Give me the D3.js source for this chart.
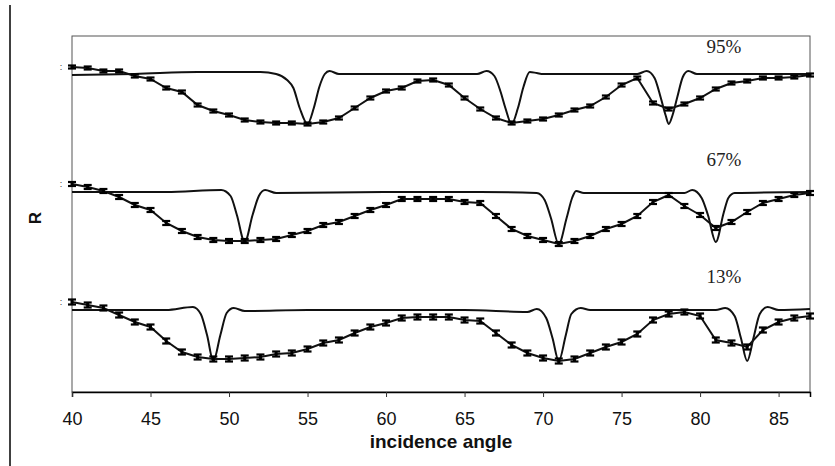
<!DOCTYPE html>
<html>
<head>
<meta charset="utf-8">
<script src="https://cdn.jsdelivr.net/npm/d3@7"></script>
<style>
    body { margin: 0; background: #fff; }
    #chart { width: 835px; height: 466px; }
</style>
</head>
<body>
<div id="chart"></div>
<script>
// Incidence angles (x categories)
const angles = [40, 41, 42, 43, 44, 45, 46, 47, 48, 49, 50, 51, 52, 53, 54, 55,
    56, 57, 58, 59, 60, 61, 62, 63, 64, 65, 66, 67, 68, 69, 70, 71,
    72, 73, 74, 75, 76, 77, 78, 79, 80, 81, 82, 83, 84, 85, 86, 87];

const xTicks = [40, 45, 50, 55, 60, 65, 70, 75, 80, 85];

// Measured R (offset per panel), one value per angle
const measured95 = [3.25, 3.24, 3.21, 3.21, 3.16, 3.13, 3.04, 3.00, 2.87, 2.81, 2.77, 2.72,
    2.70, 2.69, 2.69, 2.68, 2.70, 2.74, 2.84, 2.94, 3.01, 3.04, 3.11, 3.12,
    3.07, 2.94, 2.83, 2.74, 2.69, 2.71, 2.73, 2.77, 2.82, 2.86, 2.95, 3.07,
    3.14, 2.89, 2.83, 2.88, 2.94, 3.03, 3.09, 3.11, 3.14, 3.14, 3.15, 3.17];

const measured67 = [2.08, 2.05, 2.01, 1.95, 1.87, 1.82, 1.69, 1.61, 1.55, 1.52, 1.51, 1.51,
    1.52, 1.53, 1.57, 1.61, 1.67, 1.70, 1.76, 1.82, 1.87, 1.93, 1.93, 1.93,
    1.93, 1.90, 1.89, 1.76, 1.63, 1.56, 1.52, 1.48, 1.51, 1.56, 1.63, 1.68,
    1.76, 1.90, 1.97, 1.86, 1.77, 1.64, 1.70, 1.80, 1.89, 1.93, 1.97, 1.99];

const measured13 = [0.90, 0.87, 0.84, 0.77, 0.70, 0.65, 0.51, 0.40, 0.35, 0.33, 0.33, 0.34,
    0.35, 0.38, 0.39, 0.43, 0.49, 0.52, 0.59, 0.65, 0.69, 0.74, 0.75, 0.75,
    0.75, 0.72, 0.71, 0.59, 0.47, 0.39, 0.34, 0.31, 0.33, 0.39, 0.45, 0.50,
    0.58, 0.72, 0.78, 0.80, 0.76, 0.52, 0.49, 0.45, 0.62, 0.70, 0.74, 0.76];

// Error bar half-widths per panel
const err95 = 0.015;
const err67 = 0.02;
const err13 = 0.025;

// Calculated curves: [angle, R]
const theory95 = [[40, 3.17], [44, 3.18], [48, 3.20], [50, 3.20], [52, 3.20], [53, 3.18],
    [53.7, 3.12], [54.1, 3.04], [54.5, 2.84], [55, 2.68], [55.4, 2.84], [55.75, 3.05],
    [56.1, 3.18], [56.4, 3.21], [57, 3.18], [60, 3.18], [65.8, 3.18], [66.4, 3.21],
    [66.9, 3.16], [67.3, 3.00], [67.6, 2.84], [68, 2.68], [68.4, 2.84], [68.75, 3.05],
    [69.15, 3.20], [69.6, 3.19], [70, 3.18], [76, 3.18], [76.6, 3.21], [77.1, 3.14],
    [77.5, 2.94], [77.8, 2.77], [78, 2.68], [78.25, 2.77], [78.55, 2.95], [78.9, 3.15],
    [79.25, 3.21], [79.8, 3.18], [82, 3.18], [87, 3.18]];

const theory67 = [[40, 2.00], [46, 2.00], [49.5, 2.02], [50.1, 1.96], [50.5, 1.77], [51, 1.50],
    [51.5, 1.77], [51.9, 1.96], [52.3, 2.02], [53, 1.99], [60, 2.00], [66, 2.00],
    [69.6, 1.99], [70.1, 1.92], [70.5, 1.74], [71, 1.48], [71.5, 1.74], [71.85, 1.94],
    [72.1, 2.01], [72.6, 1.99], [79, 1.99], [79.5, 2.02], [80.1, 1.94], [80.5, 1.77],
    [81, 1.50], [81.5, 1.79], [81.8, 1.94], [82.2, 1.99], [87, 2.00]];

const theory13 = [[40, 0.82], [46, 0.82], [47.7, 0.85], [48.2, 0.78], [48.6, 0.57], [49, 0.31],
    [49.45, 0.57], [49.85, 0.79], [50.3, 0.84], [51, 0.81], [55, 0.82], [60, 0.82],
    [65, 0.82], [69, 0.80], [69.6, 0.83], [70.2, 0.74], [70.6, 0.54], [71, 0.31],
    [71.45, 0.57], [71.8, 0.78], [72.4, 0.84], [73, 0.82], [81, 0.82], [81.6, 0.84],
    [82.2, 0.76], [82.6, 0.54], [83, 0.31], [83.4, 0.54], [83.8, 0.78], [84.3, 0.85],
    [85, 0.82], [87, 0.83]];

const panelLabels = ['95%', '67%', '13%'];
const labelValues = [3.39, 2.26, 1.09];
const yMarks = [3.255, 2.085, 0.905];

const width = 835;
const height = 466;
const margin = { top: 36, right: 25, bottom: 74, left: 72 };

const svg = d3.select('#chart')
    .append('svg')
    .attr('width', width)
    .attr('height', height)
    .style('font-family', '"Liberation Sans", Arial, sans-serif');

svg.append('rect')
    .attr('width', width)
    .attr('height', height)
    .attr('fill', '#fff');

// outer left border of the figure
svg.append('line')
    .attr('x1', 10).attr('x2', 10)
    .attr('y1', 5).attr('y2', height)
    .attr('stroke', '#000')
    .attr('stroke-width', 1.5);

const x = d3.scaleLinear()
    .domain([40, 87])
    .range([margin.left, width - margin.right]);

const y = d3.scaleLinear()
    .domain([0, 3.56])
    .range([height - margin.bottom, margin.top]);

// plot frame
svg.append('rect')
    .attr('x', margin.left)
    .attr('y', margin.top)
    .attr('width', width - margin.right - margin.left)
    .attr('height', height - margin.bottom - margin.top)
    .attr('fill', 'none')
    .attr('stroke', '#555')
    .attr('stroke-width', 1);

// x axis
const xAxis = svg.append('g')
    .attr('transform', `translate(0,${height - margin.bottom})`)
    .call(d3.axisBottom(x).tickValues(xTicks).tickSize(5).tickPadding(15));

xAxis.select('.domain').attr('stroke', '#000').attr('stroke-width', 1.5);
xAxis.selectAll('.tick line').attr('stroke', '#333');
xAxis.selectAll('.tick text')
    .attr('font-family', '"Liberation Sans", Arial, sans-serif')
    .attr('font-size', 18)
    .attr('fill', '#111');

svg.append('text')
    .attr('x', 441)
    .attr('y', 448)
    .attr('text-anchor', 'middle')
    .attr('font-size', 19)
    .attr('font-weight', 'bold')
    .attr('fill', '#111')
    .text('incidence angle');

svg.append('text')
    .attr('transform', 'translate(41,218) rotate(-90)')
    .attr('text-anchor', 'middle')
    .attr('font-size', 17)
    .attr('font-weight', 'bold')
    .attr('fill', '#111')
    .text('R');

// leftover tick marks on the y axis
svg.selectAll('.ymark')
    .data(yMarks)
    .enter()
    .append('text')
    .attr('class', 'ymark')
    .attr('x', 61)
    .attr('y', d => y(d) + 3)
    .attr('text-anchor', 'middle')
    .attr('font-size', 9)
    .attr('fill', '#333')
    .text(':');

const theoryLine = d3.line()
    .x(d => x(d[0]))
    .y(d => y(d[1]))
    .curve(d3.curveMonotoneX);

const dataLine = d3.line()
    .x((d, i) => x(angles[i]))
    .y(d => y(d))
    .curve(d3.curveLinear);

const panels = [
    { measured: measured95, theory: theory95, err: err95 },
    { measured: measured67, theory: theory67, err: err67 },
    { measured: measured13, theory: theory13, err: err13 }
];

panels.forEach(p => {
    const g = svg.append('g');

    g.append('path')
        .datum(p.theory)
        .attr('d', theoryLine)
        .attr('fill', 'none')
        .attr('stroke', '#111')
        .attr('stroke-width', 2);

    g.append('path')
        .datum(p.measured)
        .attr('d', dataLine)
        .attr('fill', 'none')
        .attr('stroke', '#111')
        .attr('stroke-width', 2);

    // error bars
    const bars = g.selectAll('.err')
        .data(p.measured)
        .enter()
        .append('g')
        .attr('class', 'err')
        .attr('transform', (d, i) => `translate(${x(angles[i])},0)`);

    bars.append('line')
        .attr('x1', 0).attr('x2', 0)
        .attr('y1', d => y(d - p.err) + 0.5)
        .attr('y2', d => y(d + p.err) - 0.5)
        .attr('stroke', '#000')
        .attr('stroke-width', 3);

    bars.append('line')
        .attr('x1', -4).attr('x2', 4)
        .attr('y1', d => y(d + p.err))
        .attr('y2', d => y(d + p.err))
        .attr('stroke', '#000')
        .attr('stroke-width', 2.2);

    bars.append('line')
        .attr('x1', -4).attr('x2', 4)
        .attr('y1', d => y(d - p.err))
        .attr('y2', d => y(d - p.err))
        .attr('stroke', '#000')
        .attr('stroke-width', 2.2);
});

// panel labels
svg.selectAll('.plabel')
    .data(panelLabels)
    .enter()
    .append('text')
    .attr('class', 'plabel')
    .attr('x', 724)
    .attr('y', (d, i) => y(labelValues[i]))
    .attr('text-anchor', 'middle')
    .attr('font-family', '"Liberation Serif", "Times New Roman", serif')
    .attr('font-size', 19)
    .attr('fill', '#222')
    .text(d => d);
</script>
</body>
</html>
